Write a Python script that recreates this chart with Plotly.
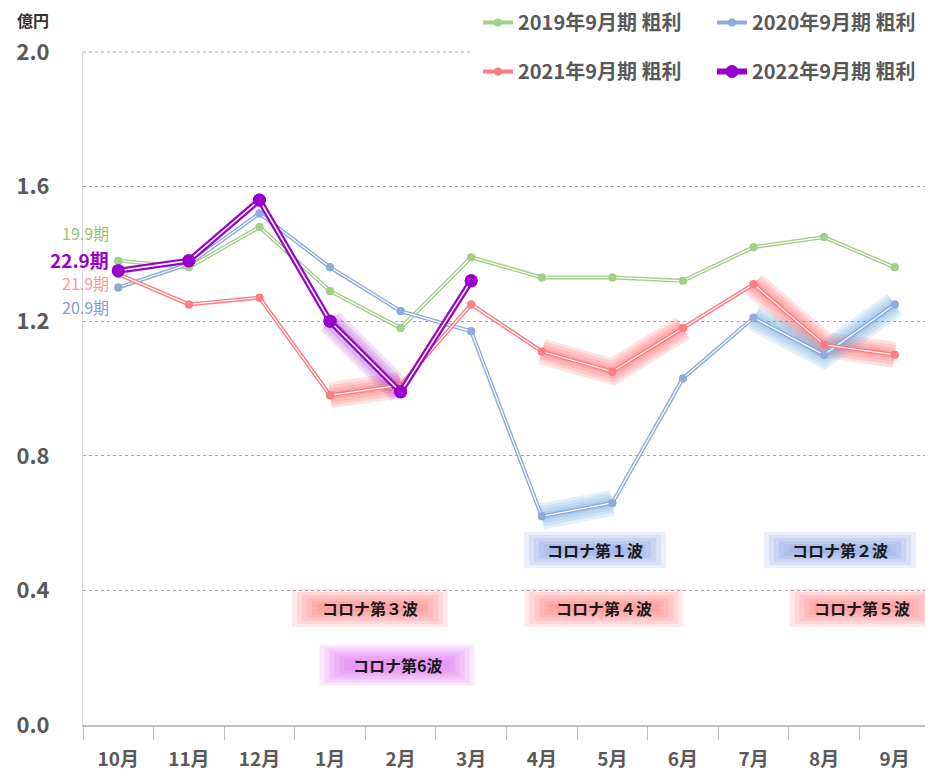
import plotly.graph_objects as go

months = ["10月", "11月", "12月", "1月", "2月", "3月", "4月", "5月", "6月", "7月", "8月", "9月"]
fy2019 = [1.38, 1.36, 1.48, 1.29, 1.18, 1.39, 1.33, 1.33, 1.32, 1.42, 1.45, 1.36]
fy2020 = [1.30, 1.37, 1.52, 1.36, 1.23, 1.17, 0.62, 0.66, 1.03, 1.21, 1.10, 1.25]
fy2021 = [1.34, 1.25, 1.27, 0.98, 1.01, 1.25, 1.11, 1.05, 1.18, 1.31, 1.13, 1.10]
fy2022 = [1.35, 1.38, 1.56, 1.20, 0.99, 1.32]
y_ticks = [0.0, 0.4, 0.8, 1.2, 1.6, 2.0]
y_tick_text = ["0.0", "0.4", "0.8", "1.2", "1.6", "2.0"]

series = [
    ("2019年9月期 粗利", fy2019, "#A4CF88", 4, 1.2, 8, "legend"),
    ("2020年9月期 粗利", fy2020, "#8FAADC", 4, 1.2, 8, "legend"),
    ("2021年9月期 粗利", fy2021, "#FF7C80", 4, 1.2, 8, "legend2"),
    ("2022年9月期 粗利", fy2022, "#9900CC", 6, 1.6, 13, "legend2"),
]

# highlighted wave segments (series index, start, end)
glows = [
    (2, 3, 4, "255,80,80"),
    (2, 6, 8, "255,80,80"),
    (2, 9, 11, "255,80,80"),
    (1, 6, 7, "90,160,215"),
    (1, 9, 11, "90,160,215"),
    (3, 3, 4, "170,60,210"),
]

FONT = "Noto Sans CJK JP"
fig = go.Figure()

for si, a, b, rgb in glows:
    vals = series[si][1]
    for w in (26, 20, 14, 8):
        fig.add_trace(go.Scatter(
            x=months[a:b + 1], y=vals[a:b + 1], mode="lines",
            line=dict(color=f"rgba({rgb},0.16)", width=w),
            showlegend=False, hoverinfo="skip"))

for name, vals, color, lw, wlw, ms, lg in series:
    xs = months[:len(vals)]
    fig.add_trace(go.Scatter(
        x=xs, y=vals, mode="lines+markers", name=name, legend=lg,
        line=dict(color=color, width=lw), marker=dict(color=color, size=ms)))
    fig.add_trace(go.Scatter(
        x=xs, y=vals, mode="lines", line=dict(color="white", width=wlw),
        showlegend=False, hoverinfo="skip"))
    fig.add_trace(go.Scatter(
        x=xs, y=vals, mode="markers", marker=dict(color=color, size=ms),
        showlegend=False, hoverinfo="skip"))

# page body adds an 8px offset; plot area target in screen pixels
OFF = 8
L, R, T, B = 83, 930, 52, 725
W, H = 933 - OFF, 776 - OFF
def px(x):
    return (x - L) / (R - L)
def py(y):
    return (B - y) / (B - T)

shapes = []
annotations = []

# top gridline only on the left part (legend sits over the rest)
shapes.append(dict(type="line", xref="paper", yref="paper", layer="below",
                   x0=0, x1=px(472), y0=1, y1=1,
                   line=dict(color="#A6A6A6", width=1, dash="dot")))

def wave_box(cx, cy, w, h, rgb, text):
    for i in range(6):
        dx = 6 - i * 5
        dy = 3 - i * 3
        shapes.append(dict(type="rect", xref="paper", yref="paper", layer="above",
                           x0=px(cx - w / 2 - dx), x1=px(cx + w / 2 + dx),
                           y0=py(cy + h / 2 + dy), y1=py(cy - h / 2 - dy),
                           fillcolor=f"rgba({rgb},0.13)", line=dict(width=0)))
    annotations.append(dict(xref="paper", yref="paper", x=px(cx), y=py(cy),
                            xanchor="center", yanchor="middle",
                            text=text, showarrow=False,
                            font=dict(family=FONT, size=16, color="#1a1a1a", weight="bold")))

wave_box(595, 550, 130, 30, "100,130,215", "コロナ第１波")
wave_box(840, 550, 140, 30, "100,130,215", "コロナ第２波")
wave_box(370, 608, 144, 32, "255,90,90", "コロナ第３波")
wave_box(604, 608, 147, 32, "255,90,90", "コロナ第４波")
wave_box(862, 608, 133, 32, "255,90,90", "コロナ第５波")
wave_box(397, 665, 143, 35, "215,80,240", "コロナ第6波")

labels = [
    ("19.9期", 233, "#94C473", 16, "normal"),
    ("22.9期", 259, "#9900CC", 19, "bold"),
    ("21.9期", 283, "#FF9999", 16, "normal"),
    ("20.9期", 307, "#7F9FD9", 16, "normal"),
]
for t, yy, c, s, wgt in labels:
    annotations.append(dict(xref="paper", yref="paper", x=px(111), y=py(yy),
                            xanchor="right", yanchor="middle", text=t, showarrow=False,
                            font=dict(family=FONT, size=s, color=c, weight=wgt)))

annotations.append(dict(xref="paper", yref="paper", x=px(15), y=py(20),
                        xanchor="left", yanchor="middle", text="億円", showarrow=False,
                        font=dict(family=FONT, size=16, color="#333333", weight="bold")))

legend_common = dict(orientation="h", xref="paper", yref="paper", xanchor="left",
                     yanchor="top", entrywidth=189, bgcolor="rgba(0,0,0,0)",
                     font=dict(family=FONT, size=20, color="#595959", weight="bold"),
                     itemwidth=30)

fig.update_layout(
    width=W, height=H,
    margin=dict(l=L - OFF, r=W - (R - OFF), t=T - OFF, b=H - (B - OFF), autoexpand=False),
    paper_bgcolor="white", plot_bgcolor="white",
    font=dict(family=FONT),
    showlegend=True,
    legend=dict(x=px(478), y=py(3), **legend_common),
    legend2=dict(x=px(478), y=py(52), **legend_common),
    shapes=shapes, annotations=annotations,
    xaxis=dict(type="category", categoryorder="array", categoryarray=months,
               range=[-0.5, 11.5], showgrid=False, showline=True,
               linecolor="#BFBFBF", linewidth=1.5, ticks="outside",
               tickson="boundaries", ticklen=13, tickcolor="#BFBFBF", tickwidth=1,
               ticklabelstandoff=16,
               tickfont=dict(family=FONT, size=19, color="#595959", weight="bold")),
    yaxis=dict(range=[0, 2.0], tickvals=y_ticks, ticktext=y_tick_text,
               showgrid=True, gridcolor="#A6A6A6", griddash="dot", gridwidth=1,
               showline=True, linecolor="#D9D9D9", linewidth=1, zeroline=False,
               ticks="", ticklabelstandoff=28,
               tickfont=dict(family=FONT, size=22, color="#595959", weight="bold")),
)

fig.write_html("out.html")
